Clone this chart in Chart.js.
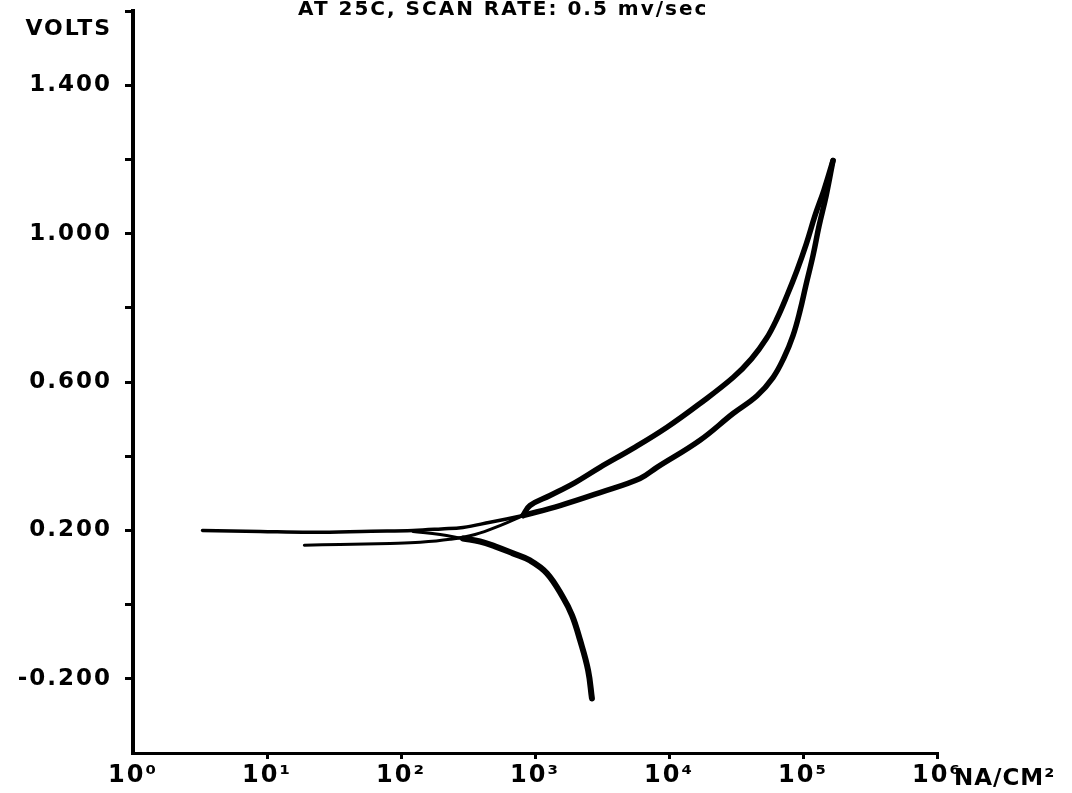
<!DOCTYPE html>
<html>
<head>
<meta charset="utf-8">
<script src="https://cdn.jsdelivr.net/npm/chart.js@4.4.1/dist/chart.umd.min.js"></script>
<style>
  html, body { margin: 0; padding: 0; background: #fff; }
  #wrap { width: 1072px; height: 793px; }
</style>
</head>
<body>
<div id="wrap"><canvas id="c" width="1072" height="793"></canvas></div>
<script>
// current density in nA/cm2, potential in volts
var cathodicCurrent = [2660, 2490, 2170, 1890, 1620, 1230, 918, 685, 503, 389, 290, 196, 123];
var cathodicVolts   = [-0.253, -0.177, -0.096, -0.029, 0.019, 0.084, 0.119, 0.138, 0.157, 0.170, 0.178, 0.189, 0.197];

var upperCurrent = [3.3, 8.9, 22, 60, 123, 200, 290, 462, 813];
var upperVolts   = [0.200, 0.197, 0.195, 0.198, 0.200, 0.204, 0.208, 0.222, 0.240];

var lowerCurrent = [19, 35, 83, 139, 232, 357, 548, 813];
var lowerVolts   = [0.160, 0.162, 0.165, 0.168, 0.176, 0.189, 0.213, 0.240];

var anodicACurrent = [813, 918, 1294, 1990, 3055, 5390, 9660, 17030, 30060, 41400, 53300, 64000, 76000, 90000, 106000, 123000, 143000, 167500];
var anodicAVolts   = [0.240, 0.267, 0.294, 0.329, 0.370, 0.421, 0.478, 0.542, 0.612, 0.663, 0.717, 0.771, 0.833, 0.900, 0.973, 1.049, 1.116, 1.197];

var anodicBCurrent = [813, 1537, 3055, 6080, 8130, 17030, 30060, 45400, 59700, 72200, 84200, 95000, 105000, 118800, 132000, 149000, 167500];
var anodicBVolts   = [0.240, 0.267, 0.302, 0.340, 0.370, 0.443, 0.515, 0.563, 0.612, 0.666, 0.725, 0.792, 0.860, 0.941, 1.022, 1.103, 1.197];

var xDecades = [1, 10, 100, 1000, 10000, 100000, 1000000];
var voltLabels = [1.4, 1.0, 0.6, 0.2, -0.2];
var sup = ['\u2070', '\u00b9', '\u00b2', '\u00b3', '\u2074', '\u2075', '\u2076'];

var titleText = 'AT 25C, SCAN RATE: 0.5 mv/sec';
var yTitle = 'VOLTS';
var xUnit = 'NA/CM\u00b2';

var FONT = "'DejaVu Sans', sans-serif";

function pts(xs, ys) {
    return xs.map(function (x, i) { return { x: x, y: ys[i] }; });
}

function lineSet(label, xs, ys, width) {
    return {
        label: label,
        data: pts(xs, ys),
        showLine: true,
        borderColor: '#000',
        backgroundColor: '#000',
        borderWidth: width,
        pointRadius: 0,
        tension: 0.4,
        borderCapStyle: 'round',
        borderJoinStyle: 'round'
    };
}

var cathodic = lineSet('cathodic', cathodicCurrent, cathodicVolts, 6);
cathodic.segment = {
    borderWidth: function (ctx) { return ctx.p0DataIndex >= 10 ? 3 : 6; }
};

var textPlugin = {
    id: 'textPlugin',
    beforeDraw: function (chart) {
        chart.ctx.letterSpacing = '2px';
    },
    afterDraw: function (chart) {
        var ctx = chart.ctx;
        var x = chart.scales.x;
        ctx.save();
        ctx.fillStyle = '#000';
        ctx.textBaseline = 'alphabetic';

        ctx.font = 'bold 20px ' + FONT;
        ctx.letterSpacing = '2px';
        ctx.textAlign = 'left';
        ctx.fillText(titleText, 298, 15);

        ctx.font = 'bold 22px ' + FONT;
        ctx.textAlign = 'right';
        ctx.fillText(yTitle, 112, 35);

        ctx.font = 'bold 23px ' + FONT;
        ctx.letterSpacing = '1px';
        ctx.textAlign = 'left';
        ctx.fillText(xUnit, x.getPixelForValue(1e6) + 17, 785);
        ctx.restore();
    }
};

function noPad(s) {
    s.paddingTop = 0;
    s.paddingBottom = 0;
    s.paddingLeft = 0;
    s.paddingRight = 0;
}

new Chart(document.getElementById('c'), {
    type: 'scatter',
    data: {
        datasets: [
            cathodic,
            lineSet('upper', upperCurrent, upperVolts, 3.5),
            lineSet('lower', lowerCurrent, lowerVolts, 3),
            lineSet('anodic A', anodicACurrent, anodicAVolts, 5.5),
            lineSet('anodic B', anodicBCurrent, anodicBVolts, 5.5)
        ]
    },
    options: {
        responsive: false,
        devicePixelRatio: 1,
        animation: false,
        events: [],
        layout: { padding: { top: 11, right: 135, bottom: 0, left: 0 } },
        plugins: {
            legend: { display: false },
            tooltip: { enabled: false },
            title: { display: false }
        },
        scales: {
            x: {
                type: 'logarithmic',
                min: 1,
                max: 1e6,
                afterBuildTicks: function (s) {
                    s.ticks = xDecades.map(function (v) { return { value: v }; });
                },
                afterFit: function (s) { s.height = 40; noPad(s); },
                border: { display: true, color: '#000', width: 3 },
                grid: {
                    drawOnChartArea: false,
                    drawTicks: true,
                    tickLength: 6,
                    lineWidth: 3,
                    color: function (ctx) {
                        return ctx.tick && ctx.tick.value === 1 ? 'rgba(0,0,0,0)' : '#000';
                    }
                },
                ticks: {
                    color: '#000',
                    autoSkip: false,
                    maxRotation: 0,
                    padding: 2,
                    font: { family: FONT, size: 24, weight: 'bold' },
                    callback: function (v) {
                        return '10' + sup[Math.round(Math.log10(v))];
                    }
                }
            },
            y: {
                min: -0.4,
                max: 1.6,
                afterFit: function (s) { s.width = 133; noPad(s); },
                border: { display: true, color: '#000', width: 4 },
                grid: {
                    drawOnChartArea: false,
                    drawTicks: true,
                    tickLength: 8,
                    lineWidth: 3,
                    color: function (ctx) {
                        return ctx.tick && Math.round(ctx.tick.value * 10) === -4 ? 'rgba(0,0,0,0)' : '#000';
                    }
                },
                ticks: {
                    stepSize: 0.2,
                    autoSkip: false,
                    color: '#000',
                    padding: 13,
                    font: { family: FONT, size: 23, weight: 'bold' },
                    callback: function (v) {
                        var n = Math.round(v * 10);
                        var hit = voltLabels.some(function (l) { return Math.round(l * 10) === n; });
                        return hit ? (n / 10).toFixed(3) : '';
                    }
                }
            }
        }
    },
    plugins: [textPlugin]
});
</script>
</body>
</html>
